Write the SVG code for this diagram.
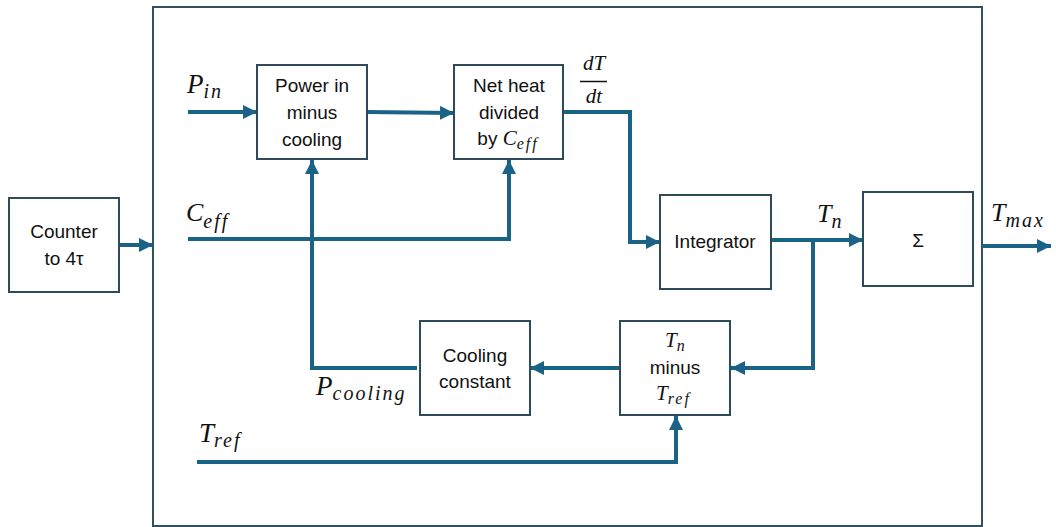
<svg xmlns="http://www.w3.org/2000/svg" width="1056" height="527" viewBox="0 0 1056 527">
<style>
.box{fill:#fff;stroke:#2d4b5b;stroke-width:2}
.outer{fill:none;stroke:#34505f;stroke-width:2}
.wire{fill:none;stroke:#1a6387;stroke-width:4;stroke-linejoin:miter}
.t{font-family:"Liberation Sans","Open Sans",sans-serif;font-size:19px;fill:#111;text-anchor:middle}
.m{font-family:"Liberation Serif","DejaVu Serif",serif;font-style:italic;fill:#111;font-variant-ligatures:none}
.sub{letter-spacing:2px}
</style>
<defs>
<marker id="ah" markerUnits="userSpaceOnUse" markerWidth="16" markerHeight="16" refX="14" refY="7" orient="auto">
<path d="M0,0 L14,7 L0,14 Z" fill="#1a6387"/>
</marker>
</defs>
<rect width="1056" height="527" fill="#fff"/>
<rect id="system" class="outer" x="153" y="7" width="829" height="519"/>

<g id="connectors">
<line class="wire" x1="119" y1="245" x2="153" y2="245" marker-end="url(#ah)"/>
<line class="wire" x1="188" y1="112" x2="257" y2="112" marker-end="url(#ah)"/>
<line class="wire" x1="367" y1="112" x2="454" y2="113" marker-end="url(#ah)"/>
<polyline class="wire" points="563,112 630,112 630,242 660,242" marker-end="url(#ah)"/>
<line class="wire" x1="771" y1="240" x2="863" y2="240" marker-end="url(#ah)"/>
<polyline class="wire" points="813,240 813,368 731,368" marker-end="url(#ah)"/>
<line class="wire" x1="620" y1="368" x2="530" y2="368" marker-end="url(#ah)"/>
<polyline class="wire" points="417,368 312,368 312,160" marker-end="url(#ah)"/>
<polyline class="wire" points="188,239 509,239 509,160" marker-end="url(#ah)"/>
<polyline class="wire" points="197,462 676,462 676,416" marker-end="url(#ah)"/>
<line class="wire" x1="982" y1="246" x2="1051" y2="246" marker-end="url(#ah)"/>
</g>

<g id="counter">
<rect class="box" x="9" y="198" width="110" height="94"/>
<text class="t" x="64" y="238">Counter</text>
<text class="t" x="64" y="265">to 4τ</text>
</g>

<g id="power">
<rect class="box" x="257" y="65" width="110" height="94"/>
<text class="t" x="312" y="92">Power in</text>
<text class="t" x="312" y="119">minus</text>
<text class="t" x="312" y="146">cooling</text>
</g>

<g id="netheat">
<rect class="box" x="454" y="65" width="109" height="94"/>
<text class="t" x="509" y="92">Net heat</text>
<text class="t" x="509" y="119">divided</text>
<text class="t" x="508" y="145">by <tspan class="m" font-size="21">C</tspan><tspan class="m sub" font-size="16" dy="4">eff</tspan></text>
</g>

<g id="integrator">
<rect class="box" x="660" y="195" width="111" height="94"/>
<text class="t" x="715" y="248">Integrator</text>
</g>

<g id="sigma">
<rect class="box" x="863" y="192" width="110" height="94"/>
<text class="t" x="918" y="247" font-size="17">Σ</text>
</g>

<g id="tdiff">
<rect class="box" x="620" y="321" width="110" height="94"/>
<text class="m" x="665" y="347" font-size="21">T<tspan font-size="16" dy="4">n</tspan></text>
<text class="t" x="675" y="374">minus</text>
<text class="m" x="656" y="400" font-size="21">T<tspan class="sub" font-size="16" dy="4">ref</tspan></text>
</g>

<g id="cooling">
<rect class="box" x="420" y="321" width="110" height="94"/>
<text class="t" x="475" y="362">Cooling</text>
<text class="t" x="475" y="388">constant</text>
</g>

<g id="labels">
<text class="m" x="187" y="93" font-size="27">P<tspan class="sub" font-size="20" dy="5">in</tspan></text>
<text class="m" x="186" y="221" font-size="26">C<tspan class="sub" font-size="20" dy="7">eff</tspan></text>
<text class="m" x="199" y="442" font-size="27">T<tspan class="sub" font-size="20" dy="5">ref</tspan></text>
<text class="m" x="316" y="395" font-size="27">P<tspan class="sub" font-size="20" dy="5">cooling</tspan></text>
<text class="m" x="817" y="222" font-size="26">T<tspan font-size="20" dy="6">n</tspan></text>
<text class="m" x="991" y="221" font-size="26">T<tspan class="sub" font-size="20" dy="6">max</tspan></text>
<text class="m" x="594" y="70" font-size="21" text-anchor="middle">dT</text>
<line x1="580" y1="81.5" x2="607" y2="81.5" stroke="#111" stroke-width="1.5"/>
<text class="m" x="594" y="103" font-size="21" text-anchor="middle">dt</text>
</g>
</svg>
